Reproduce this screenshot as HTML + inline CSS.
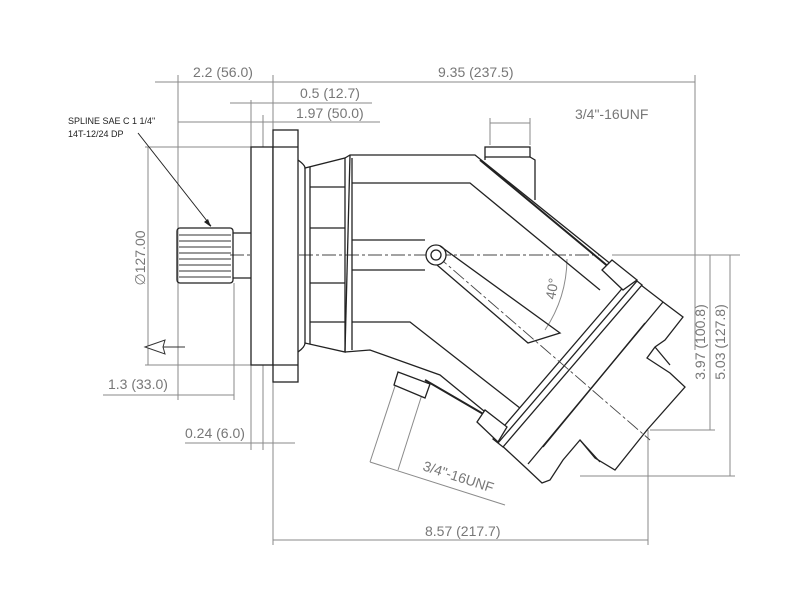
<!DOCTYPE html>
<html><head><meta charset="utf-8"><style>
html,body{margin:0;padding:0;background:#fff;}
svg{display:block}
.d{stroke:#8a8a8a;stroke-width:1;fill:none}
.k{stroke:#222;stroke-width:1.3;fill:none}
.kf{stroke:#222;stroke-width:1.3;fill:#fff}
.t{font-family:"Liberation Sans",sans-serif;font-size:14px;fill:#777}
.c{stroke:#444;stroke-width:0.9;stroke-dasharray:14 3 3 3;fill:none}
</style></head><body>
<svg width="800" height="600" viewBox="0 0 800 600" xmlns="http://www.w3.org/2000/svg">
<!-- dimension lines -->
<line class="d" x1="155" y1="82" x2="695" y2="82"/>
<line class="d" x1="230" y1="103" x2="372" y2="103"/>
<line class="d" x1="178" y1="122" x2="380" y2="122"/>
<line class="d" x1="178" y1="75" x2="178" y2="400"/>
<line class="d" x1="273" y1="75" x2="273" y2="545"/>
<line class="d" x1="251" y1="100" x2="251" y2="170"/>
<line class="d" x1="263" y1="115" x2="263" y2="165"/>
<line class="d" x1="263" y1="350" x2="263" y2="450"/>
<line class="d" x1="251" y1="360" x2="251" y2="450"/>
<line class="d" x1="695" y1="75" x2="695" y2="350"/>
<line class="d" x1="490" y1="123" x2="530" y2="123"/>
<line class="d" x1="490" y1="118" x2="490" y2="145"/>
<line class="d" x1="530" y1="118" x2="530" y2="145"/>
<line class="d" x1="148" y1="147" x2="148" y2="365"/>
<line class="d" x1="145" y1="147" x2="251" y2="147"/>
<line class="d" x1="145" y1="365" x2="251" y2="365"/>
<line class="d" x1="103" y1="395" x2="234" y2="395"/>
<line class="d" x1="234" y1="283" x2="234" y2="400"/>
<line class="d" x1="185" y1="443" x2="295" y2="443"/>
<line class="d" x1="273" y1="540" x2="648" y2="540"/>
<line class="d" x1="648" y1="430" x2="648" y2="545"/>
<line class="d" x1="612" y1="255" x2="740" y2="255"/>
<line class="d" x1="650" y1="430" x2="715" y2="430"/>
<line class="d" x1="580" y1="476" x2="735" y2="476"/>
<line class="d" x1="710" y1="255" x2="710" y2="430"/>
<line class="d" x1="730" y1="255" x2="730" y2="476"/>
<line class="d" x1="397" y1="380" x2="370" y2="462"/>
<line class="d" x1="425" y1="385" x2="398" y2="470"/>
<line class="d" x1="370" y1="462" x2="505" y2="505"/>
<path class="d" d="M567 259 A130 130 0 0 1 545 330"/>
<!-- arrow left -->
<line class="d" x1="160" y1="347" x2="185" y2="347" style="stroke:#333"/>
<polygon points="145,347 165,340 163,347 165,354" fill="#fff" stroke="#333"/>
<!-- spline leader -->
<line x1="138" y1="133" x2="211" y2="226" stroke="#222" stroke-width="1"/>
<polygon points="211,227 204,222 208,219" fill="#222"/>
<!-- centerline -->
<line class="c" x1="230" y1="255" x2="600" y2="255"/>
<!-- spline -->
<rect class="k" x="177" y="228" width="56" height="55" rx="3"/>
<g stroke="#333" stroke-width="0.9">
<line x1="179" y1="235" x2="231" y2="235"/><line x1="179" y1="241" x2="231" y2="241"/>
<line x1="179" y1="247" x2="231" y2="247"/><line x1="179" y1="253" x2="231" y2="253"/>
<line x1="179" y1="259" x2="231" y2="259"/><line x1="179" y1="265" x2="231" y2="265"/>
<line x1="179" y1="271" x2="231" y2="271"/><line x1="179" y1="277" x2="231" y2="277"/>
</g>
<line class="k" x1="233" y1="233" x2="251" y2="233"/>
<line class="k" x1="233" y1="278" x2="251" y2="278"/>
<!-- flange -->
<rect class="kf" x="251" y="147" width="22" height="218"/>
<rect class="kf" x="273" y="130" width="25" height="252"/>
<line class="k" x1="273" y1="147" x2="298" y2="147"/>
<line class="k" x1="273" y1="365" x2="298" y2="365"/>
<!-- neck -->
<path class="k" d="M298 160 Q305 165 305 168 L345 158 L345 352 L305 343 Q305 347 298 352"/>
<line class="k" x1="305" y1="168" x2="305" y2="343"/>
<line class="k" x1="310" y1="167" x2="310" y2="344"/>
<line class="k" x1="310" y1="187" x2="345" y2="187"/>
<line class="k" x1="310" y1="228" x2="345" y2="228"/>
<line class="k" x1="310" y1="283" x2="345" y2="283"/>
<line class="k" x1="310" y1="322" x2="345" y2="322"/>
<!-- body -->
<path class="k" d="M345 158 L350 155 L475 155 L612 265"/>
<path class="k" d="M350 155 L345 352"/>
<line class="k" x1="352" y1="158" x2="352" y2="350"/>
<path class="k" d="M352 183 L470 183 L600 290"/>
<path class="k" d="M352 240 L425 240"/>
<path class="k" d="M352 270 L425 270"/>
<path class="k" d="M352 322 L410 322 L525 412"/>
<path class="k" d="M345 352 L370 350 L440 375 L495 420"/>
<path class="k" d="M480 160 L610 268" style="stroke-width:2"/>
<path class="k" d="M425 380 L485 415" style="stroke-width:2"/>
<!-- head -->
<polygon class="kf" points="637,282 663,302 683,317 665,340 655,347 647,358 670,373 685,387 647,430 615,470 595,458 580,440 563,460 550,480 542,483 525,467 498,442"/>
<polygon class="kf" points="632,277 642,285 503,447 493,439"/>
<line class="k" x1="637" y1="281" x2="498" y2="443"/>
<line class="k" x1="663" y1="302" x2="528" y2="464"/>
<line class="k" x1="645" y1="323" x2="543" y2="447"/>
<line class="c" x1="436" y1="255" x2="650" y2="440"/>
<polygon class="kf" points="602,270 612,260 637,280 623,290"/>
<polygon class="kf" points="477,422 485,410 507,427 498,442"/>
<line class="k" x1="655" y1="347" x2="670" y2="365"/>
<line class="k" x1="580" y1="440" x2="600" y2="462"/>
<!-- piston rod -->
<circle class="kf" cx="436" cy="255" r="10"/>
<circle class="k" cx="436" cy="255" r="5"/>
<path class="k" d="M440 246 L560 333 L528 343 L437 265"/>
<!-- top port -->
<rect class="kf" x="485" y="147" width="45" height="10"/>
<path class="k" d="M485 157 L485 160 M530 157 L535 160 L535 200"/>
<!-- bottom port -->
<polygon class="kf" points="398,372 430,384 425,398 394,385"/>
<!-- texts -->
<text class="t" x="193" y="77">2.2 (56.0)</text>
<text class="t" x="438" y="77">9.35 (237.5)</text>
<text class="t" x="300" y="98">0.5 (12.7)</text>
<text class="t" x="296" y="118">1.97 (50.0)</text>
<text class="t" x="575" y="119">3/4"-16UNF</text>
<text x="68" y="124" style="font-family:'Liberation Sans',sans-serif;font-size:9px;fill:#222">SPLINE SAE C 1 1/4"</text>
<text x="68" y="137" style="font-family:'Liberation Sans',sans-serif;font-size:9px;fill:#222">14T-12/24 DP</text>
<text class="t" transform="translate(145,258) rotate(-90)" text-anchor="middle">∅127.00</text>
<text class="t" x="108" y="389">1.3 (33.0)</text>
<text class="t" x="185" y="438">0.24 (6.0)</text>
<text class="t" x="425" y="536">8.57 (217.7)</text>
<text class="t" transform="translate(422,470) rotate(18)">3/4"-16UNF</text>
<text class="t" transform="translate(555,300) rotate(-80)">40°</text>
<text class="t" transform="translate(705,342) rotate(-90)" text-anchor="middle">3.97 (100.8)</text>
<text class="t" transform="translate(725,342) rotate(-90)" text-anchor="middle">5.03 (127.8)</text>
</svg>
</body></html>
